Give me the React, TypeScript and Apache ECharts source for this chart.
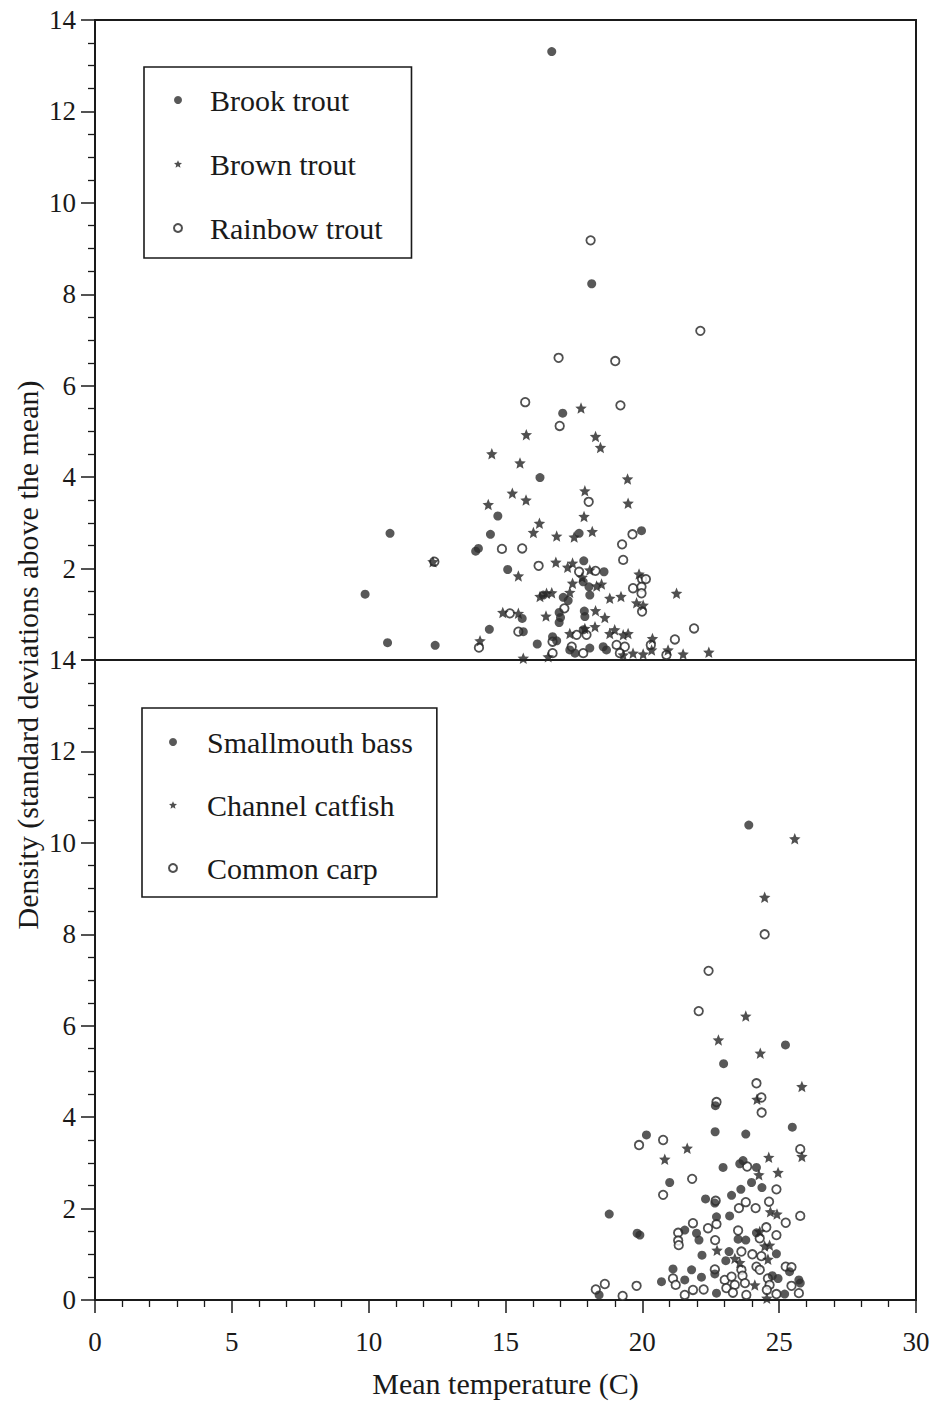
import React, { useEffect, useRef } from 'react';
import * as echarts from 'echarts';

// ---------- data (mean temperature °C, density in SD above mean) ----------
const brookTrout: number[][] = [
  [16.69, 13.31], [18.15, 8.23], [17.09, 5.4], [16.26, 3.99], [14.72, 3.15], [10.78, 2.77],
  [14.45, 2.75], [17.69, 2.77], [19.97, 2.83], [13.91, 2.38], [14.01, 2.44], [15.08, 1.98],
  [17.86, 2.17], [18.6, 1.93], [17.84, 1.71], [18.05, 1.6], [16.38, 1.42], [17.11, 1.37],
  [17.29, 1.3], [18.08, 1.42], [9.87, 1.44], [15.61, 0.91], [16.96, 1.04], [17.01, 0.93],
  [16.96, 0.82], [17.88, 1.07], [17.9, 0.95], [14.41, 0.67], [15.65, 0.62], [16.16, 0.35],
  [10.69, 0.38], [12.43, 0.32], [16.72, 0.51], [16.87, 0.42], [17.35, 0.22], [17.54, 0.15],
  [18.08, 0.26], [18.57, 0.29], [18.69, 0.22], [17.84, 0.66],
];
const brownTrout: number[][] = [
  [17.76, 5.51], [15.76, 4.93], [18.29, 4.89], [18.47, 4.65], [14.5, 4.51], [15.53, 4.31],
  [19.46, 3.96], [15.25, 3.65], [17.9, 3.7], [15.75, 3.5], [19.48, 3.43], [14.37, 3.4],
  [17.87, 3.14], [16.24, 2.99], [16.02, 2.79], [16.87, 2.71], [17.51, 2.69], [18.17, 2.81],
  [12.35, 2.15], [15.47, 1.84], [16.84, 2.14], [17.27, 2.03], [17.45, 2.12], [18.08, 1.97],
  [17.8, 1.81], [19.88, 1.88], [19.79, 1.25], [20.03, 1.2], [17.45, 1.68], [18.33, 1.62],
  [18.51, 1.66], [16.26, 1.39], [16.5, 1.46], [16.69, 1.47], [17.35, 1.48], [18.81, 1.35],
  [19.22, 1.39], [21.25, 1.46], [14.9, 1.04], [15.47, 1.02], [16.48, 0.96], [18.29, 1.08],
  [18.63, 0.93], [14.07, 0.42], [17.35, 0.58], [17.9, 0.69], [18.27, 0.73], [18.81, 0.58],
  [18.99, 0.66], [19.3, 0.55], [19.48, 0.58], [20.37, 0.47], [19.66, 0.15], [20.03, 0.13],
  [20.34, 0.22], [20.94, 0.22], [21.49, 0.13], [22.43, 0.17], [15.65, 0.04], [16.56, 0.07],
  [19.3, 0.11],
];
const rainbowTrout: number[][] = [
  [18.11, 9.18], [22.12, 7.2], [16.94, 6.61], [19.01, 6.54], [15.72, 5.64], [19.2, 5.57],
  [16.98, 5.12], [18.04, 3.46], [19.64, 2.75], [19.26, 2.53], [14.87, 2.43], [15.61, 2.44],
  [19.3, 2.19], [12.4, 2.15], [16.21, 2.06], [17.69, 1.93], [18.29, 1.95], [19.99, 1.77],
  [20.13, 1.77], [19.66, 1.57], [19.97, 1.6], [19.97, 1.46], [19.99, 1.06], [17.15, 1.13],
  [15.16, 1.02], [15.47, 0.62], [21.89, 0.69], [14.03, 0.27], [16.72, 0.4], [17.6, 0.55],
  [17.96, 0.55], [17.42, 0.29], [17.84, 0.15], [19.06, 0.33], [19.36, 0.29], [19.18, 0.15],
  [21.19, 0.45], [20.31, 0.33], [20.88, 0.11], [16.72, 0.15],
];
const smallmouthBass: number[][] = [
  [23.89, 10.39], [25.23, 5.58], [22.97, 5.17], [22.67, 4.25], [20.15, 3.61], [22.66, 3.68],
  [23.78, 3.63], [25.48, 3.78], [22.95, 2.9], [23.56, 2.98], [23.68, 3.05], [24.17, 2.9],
  [18.79, 1.88], [21.0, 2.57], [22.31, 2.21], [22.65, 2.12], [23.26, 2.29], [23.6, 2.42],
  [23.99, 2.57], [24.37, 2.46], [22.71, 1.82], [23.19, 1.84], [19.81, 1.46], [19.91, 1.42],
  [21.55, 1.53], [21.98, 1.46], [22.07, 1.31], [23.5, 1.33], [23.78, 1.31], [24.17, 1.47],
  [22.18, 0.98], [23.17, 1.06], [23.05, 0.86], [24.9, 1.01], [25.38, 0.62], [21.12, 0.68],
  [20.7, 0.4], [21.55, 0.44], [21.8, 0.66], [22.16, 0.5], [22.65, 0.57], [22.71, 0.15],
  [24.75, 0.53], [24.96, 0.47], [25.72, 0.44], [25.77, 0.37], [25.2, 0.13], [18.42, 0.11],
];
const channelCatfish: number[][] = [
  [25.57, 10.09], [24.47, 8.81], [23.78, 6.21], [22.78, 5.69], [24.31, 5.4], [25.83, 4.67],
  [24.19, 4.39], [21.64, 3.32], [20.82, 3.08], [25.83, 3.14], [24.62, 3.12], [24.96, 2.79],
  [24.26, 2.74], [24.68, 1.93], [24.92, 1.88], [24.29, 1.5], [24.47, 1.18], [24.65, 1.2],
  [22.73, 1.09], [23.38, 0.91], [23.56, 0.82], [24.59, 0.89], [24.11, 0.33], [24.55, 0.04],
];
const commonCarp: number[][] = [
  [24.47, 8.0], [22.42, 7.2], [22.06, 6.32], [24.17, 4.74], [22.71, 4.33], [24.35, 4.43],
  [24.36, 4.1], [19.88, 3.39], [20.76, 3.5], [25.77, 3.3], [23.83, 2.92], [20.76, 2.3],
  [21.82, 2.65], [22.68, 2.17], [24.9, 2.42], [24.63, 2.15], [23.53, 2.01], [23.78, 2.14],
  [24.14, 2.01], [25.77, 1.84], [25.24, 1.69], [21.85, 1.68], [21.31, 1.47], [21.31, 1.3],
  [21.33, 1.2], [22.4, 1.57], [22.71, 1.66], [23.5, 1.52], [24.29, 1.35], [24.53, 1.59],
  [24.9, 1.42], [22.66, 1.31], [23.62, 1.06], [24.02, 1.0], [24.35, 0.96], [24.17, 0.73],
  [24.29, 0.66], [25.24, 0.73], [25.45, 0.72], [21.12, 0.47], [21.22, 0.33], [21.55, 0.11],
  [21.85, 0.22], [22.24, 0.23], [22.65, 0.67], [23.01, 0.44], [23.07, 0.26], [23.26, 0.51],
  [23.38, 0.33], [23.31, 0.16], [23.62, 0.66], [23.66, 0.53], [23.75, 0.37], [23.8, 0.11],
  [24.59, 0.47], [24.65, 0.33], [24.9, 0.13], [24.55, 0.22], [25.45, 0.31], [25.72, 0.15],
  [18.3, 0.23], [18.63, 0.35], [19.28, 0.09], [19.79, 0.31],
];

const topSpecies = ['Brook trout', 'Brown trout', 'Rainbow trout'];
const bottomSpecies = ['Smallmouth bass', 'Channel catfish', 'Common carp'];
const xTitle = 'Mean temperature (C)';
const yTitle = 'Density (standard deviations above the mean)';

// ---------- styling ----------
const FONT = 'Liberation Serif';
const INK = '#1a1a1a';
const STAR =
  'path://M0,-10L2.65,-3.64L9.51,-3.09L4.28,1.39L5.878,8.09L0,4.5L-5.878,8.09L-4.28,1.39L-9.51,-3.09L-2.65,-3.64Z';

const filledStyle = { symbol: 'circle', symbolSize: 9, itemStyle: { color: '#2e2e2e' }, z: 3 };
const starStyle = { symbol: STAR, symbolSize: 11.5, itemStyle: { color: '#242424' }, z: 4 };
const openStyle = {
  symbol: 'circle',
  symbolSize: 8.5,
  itemStyle: { color: '#ffffff', borderColor: '#242424', borderWidth: 1.8 },
  z: 2,
};

function yAxis(gridIndex: number, showMinLabel: boolean) {
  return {
    type: 'value',
    gridIndex,
    min: 0,
    max: 14,
    interval: 2,
    axisLine: { show: true, lineStyle: { color: INK, width: 2 } },
    axisTick: { show: true, inside: false, length: 14, lineStyle: { color: INK, width: 1.5 } },
    minorTick: { show: true, splitNumber: 4, length: 7, lineStyle: { color: INK, width: 1.3 } },
    splitLine: { show: false },
    minorSplitLine: { show: false },
    axisLabel: {
      show: true,
      margin: 19,
      fontSize: 27,
      fontFamily: FONT,
      color: INK,
      showMinLabel,
      showMaxLabel: true,
    },
  };
}

function legend(
  names: string[],
  icons: string[],
  left: number,
  top: number,
  gap: number,
  padding: number[],
  textPad: number,
) {
  return {
    orient: 'vertical',
    left,
    top,
    data: names.map((n, i) => ({ name: n, icon: icons[i] })),
    itemWidth: 8,
    itemHeight: 8,
    itemGap: gap,
    padding,
    borderColor: INK,
    borderWidth: 1.6,
    selectedMode: false,
    textStyle: {
      fontSize: 30,
      fontFamily: FONT,
      color: INK,
      lineHeight: 30,
      padding: [0, 0, 0, textPad],
    },
  };
}

export default function App() {
  const ref = useRef<HTMLDivElement>(null);
  useEffect(() => {
    if (!ref.current) return;
    const chart = echarts.init(ref.current, undefined, { renderer: 'svg' });
    const option = {
      animation: false,
      backgroundColor: '#ffffff',
      textStyle: { fontFamily: FONT },
      grid: [
        { left: 95, top: 20, width: 821, height: 640, show: true, borderColor: INK, borderWidth: 2, backgroundColor: 'transparent' },
        { left: 95, top: 660, width: 821, height: 640, show: true, borderColor: INK, borderWidth: 2, backgroundColor: 'transparent' },
      ],
      xAxis: [
        {
          type: 'value',
          gridIndex: 0,
          min: 0,
          max: 30,
          interval: 5,
          axisLine: { show: true, lineStyle: { color: INK, width: 2 } },
          axisTick: { show: false },
          axisLabel: { show: false },
          splitLine: { show: false },
        },
        {
          type: 'value',
          gridIndex: 1,
          min: 0,
          max: 30,
          interval: 5,
          name: xTitle,
          nameLocation: 'middle',
          nameGap: 68,
          nameTextStyle: { fontSize: 30, fontFamily: FONT, color: INK },
          axisLine: { show: true, lineStyle: { color: INK, width: 2 } },
          axisTick: { show: true, inside: false, length: 13, lineStyle: { color: INK, width: 1.5 } },
          minorTick: { show: true, splitNumber: 5, length: 7, lineStyle: { color: INK, width: 1.3 } },
          splitLine: { show: false },
          axisLabel: { margin: 28, fontSize: 27, fontFamily: FONT, color: INK },
        },
      ],
      yAxis: [yAxis(0, false), yAxis(1, true)],
      legend: [
        legend(topSpecies, ['circle', STAR, 'circle'], 144, 67, 34, [18, 29, 15, 29], 23),
        legend(bottomSpecies, ['circle', STAR, 'circle'], 142, 708, 33, [19, 24, 14, 26], 25),
      ],
      graphic: [
        {
          type: 'text',
          x: 27,
          y: 655,
          rotation: Math.PI / 2,
          style: {
            text: yTitle,
            fontSize: 30,
            fontFamily: FONT,
            fill: INK,
            align: 'center',
            verticalAlign: 'middle',
          },
        },
      ],
      series: [
        { name: topSpecies[0], type: 'scatter', xAxisIndex: 0, yAxisIndex: 0, data: brookTrout, ...filledStyle },
        { name: topSpecies[1], type: 'scatter', xAxisIndex: 0, yAxisIndex: 0, data: brownTrout, ...starStyle },
        { name: topSpecies[2], type: 'scatter', xAxisIndex: 0, yAxisIndex: 0, data: rainbowTrout, ...openStyle },
        { name: bottomSpecies[0], type: 'scatter', xAxisIndex: 1, yAxisIndex: 1, data: smallmouthBass, ...filledStyle },
        { name: bottomSpecies[1], type: 'scatter', xAxisIndex: 1, yAxisIndex: 1, data: channelCatfish, ...starStyle },
        { name: bottomSpecies[2], type: 'scatter', xAxisIndex: 1, yAxisIndex: 1, data: commonCarp, ...openStyle },
      ],
    };
    chart.setOption(option as any);
    return () => chart.dispose();
  }, []);
  return (
    <div
      ref={ref}
      style={{ position: 'absolute', left: 0, top: 0, width: 935, height: 1401, background: '#fff' }}
    />
  );
}
